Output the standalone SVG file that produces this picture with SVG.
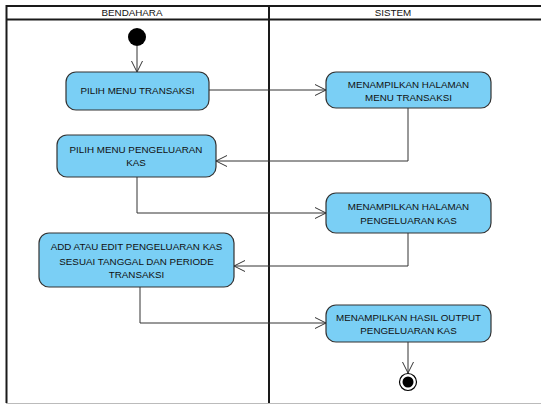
<svg xmlns="http://www.w3.org/2000/svg" width="541" height="405" viewBox="0 0 541 405">
<defs>
<style>
.lane{stroke:#1a1a1a;stroke-width:2;fill:none}
.node{fill:#7acff5;stroke:#333;stroke-width:1.2}
.t{font-family:"Liberation Sans",Arial,sans-serif;font-size:9.8px;fill:#111;text-anchor:middle}
.c{stroke:#333;stroke-width:1;fill:none}
</style>
<marker id="a" viewBox="0 0 12 12" refX="11" refY="6" markerWidth="12" markerHeight="12" markerUnits="userSpaceOnUse" orient="auto">
<path d="M0,0.5 L11,6 L0,11.5" fill="none" stroke="#333" stroke-width="1"/>
</marker>
</defs>
<rect width="541" height="405" fill="#fff"/>
<g id="swimlanes">
<line class="lane" x1="6" y1="6" x2="541" y2="6"/>
<line class="lane" x1="6" y1="19.5" x2="541" y2="19.5"/>
<line class="lane" x1="6.5" y1="5" x2="6.5" y2="403"/>
<line class="lane" x1="269" y1="5" x2="269" y2="403"/>
<line x1="6" y1="403.5" x2="541" y2="403.5" stroke="#bbb" stroke-width="1"/>
<text class="t" x="132" y="16">BENDAHARA</text>
<text class="t" x="393" y="16">SISTEM</text>
</g>
<g id="connectors">
<line class="c" x1="137" y1="46" x2="137" y2="72" marker-end="url(#a)"/>
<polyline class="c" points="209,90 326,90" marker-end="url(#a)"/>
<polyline class="c" points="408,108 408,161 216,161" marker-end="url(#a)"/>
<polyline class="c" points="137,177 137,213 326,213" marker-end="url(#a)"/>
<polyline class="c" points="408,233 408,266 234,266" marker-end="url(#a)"/>
<polyline class="c" points="140,287 140,323 326,323" marker-end="url(#a)"/>
<line class="c" x1="408" y1="342" x2="408" y2="373" marker-end="url(#a)"/>
</g>
<g id="start"><circle cx="137" cy="37" r="9" fill="#000"/></g>
<g id="n1"><rect class="node" x="66" y="72" width="143" height="38" rx="10"/><text class="t" x="137.5" y="94">PILIH MENU TRANSAKSI</text></g>
<g id="n2"><rect class="node" x="326" y="72" width="165" height="36" rx="10"/><text class="t" x="408.5" y="88">MENAMPILKAN HALAMAN</text><text class="t" x="408.5" y="101">MENU TRANSAKSI</text></g>
<g id="n3"><rect class="node" x="57" y="135" width="159" height="42" rx="10"/><text class="t" x="136" y="153">PILIH MENU PENGELUARAN</text><text class="t" x="136" y="166">KAS</text></g>
<g id="n4"><rect class="node" x="326" y="193" width="165" height="40" rx="10"/><text class="t" x="408.5" y="210">MENAMPILKAN HALAMAN</text><text class="t" x="408.5" y="223.5">PENGELUARAN KAS</text></g>
<g id="n5"><rect class="node" x="39" y="233" width="195" height="54" rx="10"/><text class="t" x="136.5" y="250">ADD ATAU EDIT PENGELUARAN KAS</text><text class="t" x="136.5" y="264.5">SESUAI TANGGAL DAN PERIODE</text><text class="t" x="136.5" y="278">TRANSAKSI</text></g>
<g id="n6"><rect class="node" x="326" y="305" width="165" height="37" rx="10"/><text class="t" x="408.5" y="320.5">MENAMPILKAN HASIL OUTPUT</text><text class="t" x="408.5" y="334">PENGELUARAN KAS</text></g>
<g id="end"><circle cx="408" cy="382" r="8.5" fill="#fff" stroke="#000" stroke-width="1.2"/><circle cx="408" cy="382" r="5.5" fill="#000"/></g>
</svg>
